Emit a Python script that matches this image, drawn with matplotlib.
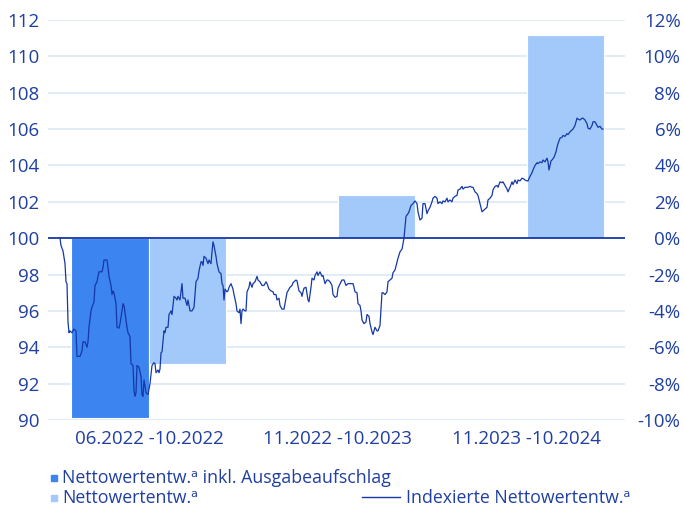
import matplotlib
matplotlib.use("Agg")
import matplotlib.pyplot as plt
from matplotlib.lines import Line2D
import numpy as np

# Zeitraeume (Balken) und Wertentwicklung in %
zeitraeume = ["06.2022 -10.2022", "11.2022 -10.2023", "11.2023 -10.2024"]
inkl_aufschlag = [-9.9, np.nan, np.nan]
netto = [-6.9, 2.35, 11.15]

# indexierte Nettowertentwicklung (Tagesindex, Start = 100)
tage = [0, 1, 3, 5, 6, 7, 8, 9, 10, 12, 14, 16, 17, 20, 22, 23, 25, 27, 28, 29,
        31, 32, 34, 35, 37, 38, 39, 42, 43, 44, 47, 48, 49, 51, 52, 53, 54, 56, 57, 59,
        60, 62, 63, 64, 66, 67, 68, 70, 71, 73, 74, 75, 76, 77, 79, 81, 82, 83, 84, 86,
        88, 90, 92, 94, 95, 96, 98, 99, 100, 101, 102, 104, 105, 106, 108, 109, 111, 112, 114, 116,
        117, 118, 120, 122, 123, 125, 127, 128, 130, 132, 134, 136, 138, 139, 141, 142, 143, 144, 146, 148,
        149, 151, 152, 153, 154, 156, 157, 159, 161, 162, 163, 164, 165, 167, 168, 169, 171, 173, 174, 176,
        177, 179, 180, 181, 182, 183, 185, 186, 187, 189, 190, 192, 193, 195, 197, 198, 200, 202, 204, 206,
        207, 209, 211, 213, 214, 216, 217, 219, 220, 222, 224, 225, 227, 228, 230, 232, 233, 236, 237, 239,
        241, 242, 243, 244, 246, 248, 249, 251, 252, 254, 255, 257, 258, 260, 262, 263, 265, 267, 268, 270,
        272, 273, 275, 277, 278, 281, 282, 284, 286, 288, 291, 293, 294, 295, 297, 298, 300, 301, 302, 304,
        306, 307, 309, 310, 312, 313, 315, 317, 318, 320, 322, 323, 325, 327, 328, 330, 332, 333, 335, 337,
        338, 340, 342, 343, 344, 346, 348, 349, 351, 353, 355, 357, 358, 360, 362, 363, 365, 367, 368, 370,
        372, 373, 375, 377, 378, 380, 382, 383, 385, 387, 388, 390, 392, 393, 395, 397, 398, 400, 402, 403,
        405, 407, 408, 410, 412, 413, 415, 417, 418, 420, 422, 423, 425, 427, 428, 430, 432, 433, 435, 437,
        438, 440, 442, 443, 445, 447, 448, 450, 452, 453, 455, 457, 458, 460, 462, 464, 465, 467, 468, 470,
        472, 473, 475, 477, 478, 480, 482, 483, 485, 487, 488, 489, 491, 492, 494, 496, 497, 498, 500, 502,
        503, 505, 507, 508, 510, 512, 513, 515, 517, 518, 520, 522, 523, 525, 527, 528, 530, 532, 533, 535,
        537, 538, 540, 542, 543]
werte = [100.0, 99.6, 99.3, 98.6, 97.6, 97.5, 95.4, 94.8, 94.9, 94.8, 95.0, 94.9, 93.5, 93.5, 93.8, 94.3, 94.3, 94.0, 94.3, 95.1,
         96.0, 96.2, 96.5, 97.4, 97.6, 97.9, 98.15, 98.15, 98.4, 98.8, 98.8, 98.4, 97.9, 97.4, 96.9, 97.1, 97.0, 96.4, 95.1, 95.05,
         95.3, 96.0, 96.4, 96.3, 95.5, 95.1, 94.8, 94.6, 93.1, 93.0, 91.6, 91.3, 91.5, 93.0, 92.9, 92.4, 91.4, 91.3, 92.2, 91.5,
         91.4, 92.0, 93.0, 93.15, 93.1, 92.6, 92.75, 92.6, 92.8, 93.7, 93.75, 94.9, 94.8, 95.1, 95.1, 95.8, 96.0, 95.8, 96.8, 96.7,
         96.6, 96.8, 96.6, 97.5, 96.7, 96.7, 96.3, 96.6, 96.0, 96.0, 96.2, 97.6, 97.8, 98.2, 98.7, 98.7, 98.5, 99.0, 98.9, 98.6,
         98.8, 98.6, 99.25, 99.8, 99.6, 99.0, 98.6, 98.15, 98.05, 97.5, 97.4, 96.6, 97.2, 97.05, 97.1, 97.3, 97.5, 97.2, 96.9, 96.4,
         96.0, 95.9, 96.1, 95.3, 96.0, 96.1, 96.0, 96.0, 97.05, 97.3, 97.6, 97.3, 97.5, 97.6, 97.9, 97.7, 97.6, 97.4, 97.4, 97.6,
         97.5, 97.2, 97.1, 97.05, 96.9, 96.9, 96.6, 96.7, 96.3, 96.1, 96.1, 96.4, 97.0, 97.1, 97.3, 97.4, 97.55, 97.7, 97.65, 97.1,
         97.0, 96.8, 97.05, 97.25, 97.3, 96.6, 96.5, 97.3, 97.8, 97.7, 97.95, 98.15, 97.95, 98.15, 97.9, 97.95, 97.5, 97.7, 97.7, 97.6,
         97.4, 96.9, 96.75, 96.8, 97.25, 97.6, 97.7, 97.7, 97.4, 97.5, 97.5, 97.5, 97.3, 97.05, 97.0, 96.4, 96.3, 96.0, 95.5, 95.3,
         95.4, 95.8, 95.7, 95.3, 94.85, 94.7, 95.1, 94.9, 94.9, 95.2, 97.0, 97.0, 96.9, 97.05, 97.6, 97.7, 97.8, 98.1, 98.25, 98.7,
         98.9, 99.25, 99.4, 99.7, 100.0, 101.2, 101.35, 101.45, 101.8, 101.9, 102.05, 101.9, 101.45, 101.0, 101.1, 101.9, 101.9, 101.35, 101.5, 101.7,
         102.0, 102.2, 102.3, 102.2, 101.9, 102.0, 101.9, 102.05, 102.0, 102.2, 102.0, 102.1, 102.0, 102.2, 102.3, 102.35, 102.65, 102.7, 102.85, 102.7,
         102.8, 102.8, 102.8, 102.85, 102.8, 102.8, 102.55, 102.45, 102.35, 101.9, 101.45, 101.5, 101.6, 101.7, 102.1, 102.2, 102.35, 102.65, 102.85, 102.9,
         102.8, 103.1, 103.05, 103.1, 102.9, 102.7, 102.55, 102.8, 103.1, 102.95, 103.2, 103.0, 103.2, 103.15, 103.3, 103.25, 103.2, 103.15, 103.15, 103.4,
         103.6, 103.75, 104.0, 104.15, 104.1, 104.2, 104.15, 104.3, 104.2, 104.4, 104.2, 103.75, 104.25, 104.3, 104.45, 104.75, 105.0, 105.2, 105.5, 105.55,
         105.65, 105.6, 105.75, 105.7, 105.85, 105.95, 106.0, 106.2, 106.6, 106.55, 106.5, 106.6, 106.6, 106.5, 106.3, 106.05, 106.0, 106.2, 106.4, 106.4,
         106.2, 106.1, 106.15, 106.0, 106.0]

prozent_ticks = list(range(-10, 13, 2))
index_ticks = list(range(90, 113, 2))

dunkel = "#3c84f0"
hell = "#a2c9fa"
linie = "#1538a8"
text = "#1f3fa2"
gitter = "#dde9f8"

plt.rcParams["font.family"] = ["Open Sans", "DejaVu Sans"]
plt.rcParams["font.size"] = 13.5

fig = plt.figure(figsize=(6.84, 5.09), dpi=100)
pos = [48 / 684, 1 - 420 / 509, 577 / 684, 400 / 509]

# Balken (rechte Achse, %)
ax = fig.add_axes(pos)
x = np.arange(len(zeitraeume))
w = 0.41
ax.bar(x - w / 2, inkl_aufschlag, w, color=dunkel, edgecolor="white", linewidth=0.8, zorder=2)
ax.bar(x + w / 2, netto, w, color=hell, edgecolor="white", linewidth=0.8, zorder=2)
ax.set_xlim(-0.534, 2.519)
ax.set_ylim(-10, 12)
ax.set_yticks(prozent_ticks)
ax.set_yticklabels([f"{t}%" for t in prozent_ticks])
ax.yaxis.tick_right()
ax.tick_params(axis="y", length=0, pad=40, colors=text)
for lab in ax.get_yticklabels():
    lab.set_horizontalalignment("right")
ax.set_xticks(x)
ax.set_xticklabels(zeitraeume)
ax.tick_params(axis="x", length=0, pad=7, colors=text)
for t in prozent_ticks:
    if t != 0:
        ax.axhline(t, color=gitter, lw=1.2, zorder=1)
ax.axhline(0, color=linie, lw=1.3, zorder=3)
for s in ax.spines.values():
    s.set_visible(False)

# Linie (linke Achse, Index)
ax2 = fig.add_axes(pos, frameon=False)
ax2.plot(tage, werte, color=linie, lw=0.9, zorder=4)
ax2.set_xlim(-12, 565)
ax2.set_ylim(90, 112)
ax2.set_yticks(index_ticks)
ax2.tick_params(axis="y", length=0, pad=6, colors=text)
ax2.set_xticks([])

# Legende
leg_size = 12.8

def quadrat(xp, yp, farbe):
    fig.add_artist(Line2D([xp / 684], [1 - yp / 509], marker="s", ms=4.5, color=farbe,
                          transform=fig.transFigure))

quadrat(54, 478, dunkel)
fig.text(62 / 684, 1 - 478 / 509, "Nettowertentw.ᵃ inkl. Ausgabeaufschlag", color=text,
         va="center", ha="left", fontsize=leg_size)
quadrat(54, 498, hell)
fig.text(62 / 684, 1 - 498 / 509, "Nettowertentw.ᵃ", color=text, va="center", ha="left",
         fontsize=leg_size)
fig.add_artist(Line2D([362 / 684, 400 / 684], [1 - 497 / 509] * 2, color=linie, lw=1,
                      transform=fig.transFigure))
fig.text(406 / 684, 1 - 498 / 509, "Indexierte Nettowertentw.ᵃ", color=text, va="center",
         ha="left", fontsize=leg_size)

fig.savefig("out.png", dpi=100)
